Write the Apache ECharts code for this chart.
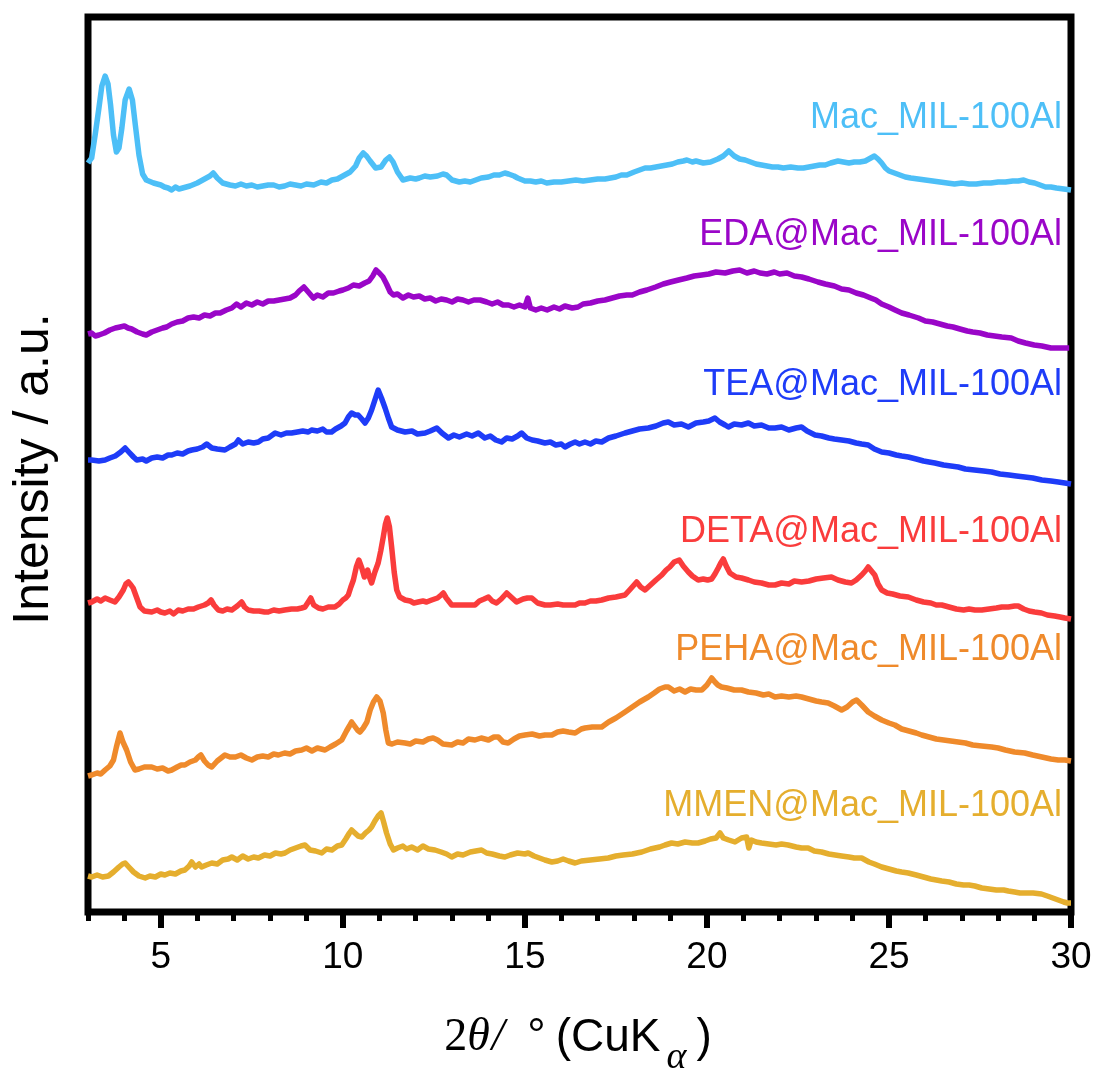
<!DOCTYPE html>
<html style="height: 100%">
<head>
<meta charset="utf-8">
<script src="https://cdn.jsdelivr.net/npm/echarts@6/dist/echarts.min.js"></script>
</head>
<body style="height: 100%; margin: 0; background: #fff">
<div id="container" style="width: 1099px; height: 1070px"></div>
<script type="text/javascript">
// 2theta (deg) vs intensity (a.u., offset stacked)
var majorTicks = [5, 10, 15, 20, 25, 30];

var macData = [[3.0,749],[3.1,754],[3.2,778],[3.3,804],[3.38,826],[3.47,836],[3.55,828],[3.62,807],[3.7,777],[3.78,760],[3.85,764],[3.93,784],[4.02,812],[4.13,823],[4.22,812],[4.3,787],[4.4,757],[4.5,738],[4.6,732],[4.8,729],[5.0,727],[5.1,725],[5.2,724],[5.3,722],[5.4,725],[5.5,723],[5.6,724],[5.7,725],[5.8,726],[6.0,729],[6.2,733],[6.35,736],[6.44,739],[6.55,734],[6.7,729],[6.9,727],[7.05,726],[7.2,728],[7.35,726],[7.5,727],[7.65,725],[7.8,726],[7.95,727],[8.1,727],[8.25,725],[8.4,726],[8.55,728],[8.7,727],[8.85,726],[9.0,728],[9.2,727],[9.4,730],[9.55,729],[9.7,732],[9.85,733],[10.0,736],[10.2,740],[10.35,746],[10.45,754],[10.56,759],[10.65,756],[10.75,751],[10.9,744],[11.05,745],[11.18,752],[11.28,755],[11.38,750],[11.5,740],[11.65,732],[11.85,734],[12.0,733],[12.1,734],[12.25,736],[12.4,735],[12.6,736],[12.75,738],[12.85,737],[13.0,732],[13.2,730],[13.35,731],[13.5,730],[13.65,732],[13.8,734],[14.0,735],[14.15,737],[14.3,737],[14.45,739],[14.55,738],[14.7,736],[14.8,734],[15.0,731],[15.15,731],[15.3,730],[15.45,731],[15.6,729],[15.8,730],[16.0,730],[16.2,731],[16.4,732],[16.6,731],[16.8,732],[17.0,733],[17.2,733],[17.35,734],[17.5,735],[17.65,737],[17.8,737],[18.0,740],[18.15,742],[18.3,744],[18.45,744],[18.6,745],[18.75,746],[18.9,747],[19.05,748],[19.2,750],[19.35,751],[19.45,752],[19.6,750],[19.7,751],[19.9,749],[20.1,750],[20.3,753],[20.45,756],[20.6,761],[20.75,756],[20.9,753],[21.05,752],[21.2,750],[21.35,748],[21.5,747],[21.65,746],[21.8,745],[21.95,745],[22.1,744],[22.3,745],[22.5,744],[22.65,744],[22.8,745],[22.95,746],[23.1,747],[23.25,747],[23.4,749],[23.6,751],[23.75,750],[23.9,749],[24.05,750],[24.2,750],[24.35,751],[24.45,753],[24.6,756],[24.7,753],[24.8,749],[24.9,744],[25.0,741],[25.15,739],[25.3,737],[25.45,735],[25.6,734],[25.8,733],[26.0,732],[26.2,731],[26.4,730],[26.6,729],[26.8,728],[27.0,729],[27.2,728],[27.4,728],[27.6,729],[27.8,729],[28.0,730],[28.2,730],[28.4,731],[28.55,731],[28.7,732],[28.85,730],[29.0,729],[29.15,727],[29.3,725],[29.45,725],[29.6,724],[29.8,723],[30.0,722]];

var edaData = [[3.0,578],[3.1,579],[3.2,576],[3.3,577],[3.45,579],[3.6,582],[3.75,584],[3.88,585],[4.0,586],[4.1,584],[4.2,583],[4.35,580],[4.5,578],[4.6,577],[4.75,580],[4.9,582],[5.05,584],[5.16,585],[5.3,588],[5.45,590],[5.6,591],[5.75,594],[5.9,595],[6.05,594],[6.2,597],[6.35,596],[6.5,599],[6.63,599],[6.8,602],[6.95,604],[7.08,608],[7.2,605],[7.35,609],[7.5,607],[7.65,610],[7.8,608],[7.95,611],[8.1,611],[8.25,612],[8.4,613],[8.55,614],[8.7,617],[8.8,621],[8.93,625],[9.05,620],[9.19,614],[9.3,617],[9.45,615],[9.6,619],[9.74,619],[9.9,621],[10.0,622],[10.15,624],[10.29,627],[10.45,626],[10.6,629],[10.72,631],[10.82,636],[10.91,642],[11.0,639],[11.1,635],[11.2,628],[11.3,620],[11.39,617],[11.5,618],[11.65,614],[11.8,617],[11.94,615],[12.1,616],[12.25,613],[12.4,614],[12.55,611],[12.7,613],[12.85,612],[13.0,610],[13.15,613],[13.3,612],[13.45,610],[13.6,612],[13.77,612],[13.95,610],[14.1,608],[14.25,610],[14.4,607],[14.55,607],[14.7,605],[14.85,607],[15.0,605],[15.08,614],[15.15,604],[15.3,602],[15.45,604],[15.61,602],[15.8,605],[15.95,603],[16.1,606],[16.3,604],[16.46,605],[16.6,608],[16.8,609],[17.0,611],[17.2,612],[17.4,614],[17.6,616],[17.8,617],[17.95,617],[18.15,620],[18.35,622],[18.59,625],[18.8,628],[19.0,630],[19.22,632],[19.45,634],[19.65,636],[19.86,637],[20.05,638],[20.25,640],[20.5,639],[20.71,641],[20.9,642],[21.1,639],[21.3,641],[21.46,639],[21.65,638],[21.85,640],[22.0,638],[22.2,639],[22.4,636],[22.6,635],[22.8,633],[23.05,630],[23.25,628],[23.5,626],[23.7,623],[23.9,622],[24.1,619],[24.3,617],[24.5,614],[24.64,612],[24.8,608],[25.0,605],[25.17,602],[25.35,599],[25.55,597],[25.81,594],[26.0,591],[26.2,590],[26.4,588],[26.6,586],[26.76,585],[26.95,583],[27.15,581],[27.3,580],[27.5,579],[27.7,577],[27.9,576],[28.1,575],[28.36,574],[28.55,571],[28.75,569],[28.99,567],[29.2,566],[29.45,564],[29.7,564],[29.95,564]];

var teaData = [[3.0,452],[3.1,452],[3.3,451],[3.47,452],[3.6,454],[3.75,456],[3.9,460],[4.02,464],[4.12,460],[4.25,455],[4.34,452],[4.5,453],[4.6,451],[4.75,454],[4.9,455],[5.05,454],[5.2,457],[5.3,457],[5.45,459],[5.6,458],[5.75,461],[5.85,462],[6.0,463],[6.15,465],[6.26,468],[6.4,464],[6.55,463],[6.76,462],[6.9,465],[7.05,468],[7.13,472],[7.25,468],[7.4,470],[7.55,469],[7.68,470],[7.8,473],[7.95,474],[8.14,479],[8.3,477],[8.45,479],[8.59,479],[8.75,480],[8.9,481],[9.05,480],[9.14,482],[9.3,481],[9.45,483],[9.55,480],[9.69,480],[9.8,483],[9.95,486],[10.06,489],[10.15,495],[10.24,499],[10.34,497],[10.42,497],[10.52,493],[10.61,489],[10.7,494],[10.79,502],[10.88,512],[10.97,522],[11.06,514],[11.16,504],[11.25,494],[11.34,485],[11.5,482],[11.71,480],[11.9,481],[12.05,478],[12.26,479],[12.4,481],[12.58,484],[12.72,479],[12.9,474],[13.05,477],[13.2,475],[13.4,478],[13.55,476],[13.72,479],[13.9,474],[14.05,476],[14.2,472],[14.36,470],[14.5,474],[14.65,473],[14.8,476],[14.91,479],[15.05,474],[15.2,472],[15.35,471],[15.55,469],[15.7,470],[15.85,467],[16.0,468],[16.1,465],[16.25,468],[16.38,470],[16.5,468],[16.65,470],[16.8,468],[16.95,471],[17.11,470],[17.3,474],[17.5,476],[17.75,479],[17.95,481],[18.15,483],[18.39,484],[18.6,486],[18.8,489],[18.94,490],[19.1,487],[19.3,488],[19.49,485],[19.7,489],[19.9,490],[20.05,491],[20.22,494],[20.35,490],[20.5,487],[20.59,485],[20.75,488],[20.95,487],[21.14,489],[21.3,486],[21.5,487],[21.7,484],[21.87,484],[22.05,485],[22.25,482],[22.45,484],[22.6,485],[22.75,481],[22.97,477],[23.15,476],[23.35,474],[23.5,473],[23.7,472],[23.9,471],[24.1,469],[24.25,468],[24.43,467],[24.6,463],[24.8,460],[25.0,459],[25.2,457],[25.35,456],[25.53,455],[25.75,453],[25.95,451],[26.1,450],[26.26,449],[26.5,447],[26.7,446],[26.9,445],[27.1,443],[27.35,442],[27.6,441],[27.82,440],[28.05,438],[28.3,437],[28.5,436],[28.73,435],[28.95,434],[29.2,432],[29.45,431],[29.65,430],[29.83,429],[30.0,428]];

var detaData = [[3.0,309],[3.1,310],[3.25,313],[3.35,311],[3.47,314],[3.6,312],[3.74,310],[3.85,315],[3.97,322],[4.04,328],[4.11,330],[4.18,327],[4.24,324],[4.33,315],[4.43,305],[4.55,301],[4.75,300],[4.9,302],[5.0,300],[5.11,299],[5.25,301],[5.35,298],[5.48,302],[5.6,301],[5.75,303],[5.9,303],[6.03,305],[6.2,307],[6.3,309],[6.38,312],[6.46,307],[6.58,302],[6.7,301],[6.82,303],[6.95,302],[7.1,306],[7.22,310],[7.3,305],[7.4,302],[7.55,301],[7.7,301],[7.85,300],[7.95,300],[8.1,302],[8.25,301],[8.4,302],[8.59,303],[8.75,303],[8.87,304],[8.96,305],[9.05,310],[9.12,314],[9.2,307],[9.33,304],[9.45,303],[9.6,305],[9.78,305],[9.9,308],[10.0,312],[10.08,314],[10.15,317],[10.22,325],[10.29,332],[10.37,345],[10.44,352],[10.52,344],[10.59,335],[10.68,342],[10.74,334],[10.79,329],[10.88,340],[10.97,349],[11.04,361],[11.11,375],[11.17,388],[11.22,394],[11.28,385],[11.34,365],[11.41,340],[11.48,322],[11.56,315],[11.71,312],[11.85,311],[11.95,309],[12.07,310],[12.2,311],[12.3,310],[12.44,312],[12.6,314],[12.7,317],[12.76,319],[12.84,314],[12.99,307],[13.15,307],[13.3,307],[13.45,307],[13.63,307],[13.75,311],[13.88,313],[14.0,315],[14.1,311],[14.22,309],[14.35,313],[14.5,319],[14.62,315],[14.77,310],[14.95,313],[15.07,314],[15.19,314],[15.35,309],[15.55,307],[15.7,307],[15.9,308],[16.05,307],[16.19,307],[16.38,307],[16.5,309],[16.65,309],[16.8,311],[16.95,311],[17.11,312],[17.3,314],[17.5,315],[17.75,317],[17.9,323],[18.07,330],[18.18,325],[18.3,322],[18.45,327],[18.6,332],[18.76,337],[18.88,342],[18.98,345],[19.1,350],[19.24,352],[19.35,346],[19.49,340],[19.6,336],[19.76,332],[19.9,333],[20.02,332],[20.13,333],[20.22,338],[20.31,344],[20.38,349],[20.45,353],[20.53,346],[20.63,339],[20.8,335],[20.95,334],[21.14,332],[21.3,330],[21.5,329],[21.7,327],[21.87,327],[22.05,329],[22.25,328],[22.4,331],[22.6,330],[22.8,331],[23.0,333],[23.2,334],[23.42,335],[23.6,332],[23.8,330],[23.97,329],[24.1,332],[24.25,337],[24.35,341],[24.43,345],[24.52,341],[24.61,337],[24.7,328],[24.8,322],[24.95,319],[25.1,318],[25.3,316],[25.53,315],[25.75,312],[25.95,310],[26.15,309],[26.3,307],[26.45,307],[26.65,305],[26.85,303],[27.05,302],[27.2,303],[27.36,302],[27.55,302],[27.75,303],[27.95,304],[28.1,305],[28.28,305],[28.45,306],[28.55,306],[28.7,303],[28.85,301],[29.0,300],[29.19,299],[29.35,297],[29.55,296],[29.7,295],[29.83,294],[30.0,293]];

var pehaData = [[3.0,136],[3.1,137],[3.25,139],[3.35,138],[3.47,142],[3.6,146],[3.7,152],[3.78,165],[3.88,179],[3.96,170],[4.06,162],[4.17,150],[4.29,142],[4.4,143],[4.55,145],[4.75,145],[4.9,143],[5.05,144],[5.2,141],[5.3,142],[5.45,145],[5.56,147],[5.66,147],[5.8,150],[5.95,152],[6.03,155],[6.1,157],[6.2,151],[6.3,147],[6.4,145],[6.55,151],[6.76,157],[6.9,155],[7.05,155],[7.2,157],[7.35,154],[7.5,152],[7.65,155],[7.8,156],[7.95,155],[8.1,158],[8.23,157],[8.4,159],[8.55,158],[8.7,161],[8.87,162],[9.0,164],[9.15,161],[9.3,164],[9.51,162],[9.65,165],[9.8,168],[9.97,172],[10.1,181],[10.18,186],[10.24,190],[10.32,186],[10.4,182],[10.47,180],[10.56,184],[10.66,190],[10.75,202],[10.84,210],[10.93,215],[11.02,211],[11.11,199],[11.18,182],[11.25,169],[11.35,168],[11.5,170],[11.71,169],[11.85,168],[12.0,171],[12.2,170],[12.35,173],[12.48,174],[12.6,172],[12.75,168],[12.99,167],[13.15,170],[13.3,169],[13.45,173],[13.63,172],[13.8,174],[14.0,172],[14.15,175],[14.27,175],[14.4,170],[14.54,169],[14.7,173],[14.85,176],[15.0,177],[15.2,178],[15.4,176],[15.55,177],[15.74,177],[15.9,180],[16.05,181],[16.2,180],[16.38,179],[16.55,183],[16.65,184],[16.85,185],[17.11,185],[17.3,190],[17.5,194],[17.75,200],[17.95,205],[18.15,210],[18.39,215],[18.55,219],[18.7,223],[18.85,225],[18.94,225],[19.1,221],[19.25,223],[19.4,220],[19.55,223],[19.7,222],[19.86,222],[20.0,227],[20.13,234],[20.22,230],[20.3,227],[20.4,225],[20.55,224],[20.75,222],[20.95,222],[21.14,220],[21.35,219],[21.55,217],[21.7,218],[21.87,215],[22.05,216],[22.25,215],[22.45,216],[22.6,215],[22.8,213],[23.0,211],[23.15,210],[23.33,209],[23.5,206],[23.7,202],[23.85,205],[24.0,210],[24.11,212],[24.25,207],[24.43,200],[24.6,196],[24.8,192],[25.0,189],[25.16,187],[25.35,183],[25.55,181],[25.75,179],[25.9,177],[26.1,175],[26.3,173],[26.5,172],[26.7,171],[26.9,170],[27.1,169],[27.3,167],[27.55,166],[27.82,165],[28.0,164],[28.2,162],[28.45,160],[28.73,159],[28.95,157],[29.2,155],[29.45,153],[29.65,152],[29.83,152],[30.0,151]];

var mmenData = [[3.0,36],[3.1,35],[3.25,37],[3.4,35],[3.56,36],[3.7,40],[3.85,45],[3.95,48],[4.02,49],[4.12,45],[4.25,40],[4.4,36],[4.57,34],[4.7,36],[4.85,35],[5.0,38],[5.11,37],[5.25,39],[5.4,38],[5.55,41],[5.66,42],[5.78,46],[5.85,50],[5.95,45],[6.05,48],[6.12,45],[6.25,47],[6.4,49],[6.55,48],[6.7,52],[6.85,53],[6.95,55],[7.1,52],[7.25,56],[7.4,53],[7.55,55],[7.68,54],[7.85,57],[8.0,56],[8.15,59],[8.3,58],[8.41,59],[8.55,62],[8.7,64],[8.85,66],[8.96,67],[9.1,62],[9.25,61],[9.42,59],[9.55,63],[9.7,62],[9.85,66],[9.97,67],[10.08,73],[10.18,79],[10.24,82],[10.33,79],[10.42,76],[10.52,75],[10.62,79],[10.72,82],[10.79,85],[10.88,91],[10.97,96],[11.05,99],[11.12,90],[11.2,79],[11.3,68],[11.39,62],[11.5,64],[11.65,66],[11.75,63],[11.89,65],[12.05,62],[12.2,66],[12.35,63],[12.53,62],[12.7,60],[12.85,58],[12.99,55],[13.15,58],[13.3,57],[13.5,60],[13.65,61],[13.81,62],[13.95,59],[14.1,58],[14.3,56],[14.45,55],[14.6,57],[14.8,59],[15.0,58],[15.09,59],[15.25,56],[15.4,54],[15.55,52],[15.74,50],[15.9,51],[16.05,53],[16.2,51],[16.38,49],[16.55,51],[16.8,52],[17.05,53],[17.29,54],[17.5,56],[17.7,57],[17.95,58],[18.21,60],[18.45,63],[18.7,65],[18.85,67],[19.03,69],[19.2,68],[19.4,70],[19.6,69],[19.76,69],[19.95,71],[20.1,73],[20.25,74],[20.36,79],[20.45,74],[20.6,72],[20.77,70],[20.95,74],[21.09,75],[21.15,64],[21.22,72],[21.35,70],[21.5,69],[21.7,68],[21.9,67],[22.05,68],[22.23,67],[22.45,65],[22.6,64],[22.78,64],[22.95,61],[23.15,60],[23.35,58],[23.52,57],[23.7,56],[23.9,55],[24.05,54],[24.25,54],[24.45,50],[24.6,48],[24.8,45],[25.0,43],[25.2,41],[25.35,40],[25.53,39],[25.75,37],[25.95,35],[26.15,33],[26.3,32],[26.45,31],[26.65,30],[26.85,28],[27.05,27],[27.2,27],[27.36,26],[27.55,24],[27.75,23],[27.95,22],[28.15,22],[28.28,21],[28.45,20],[28.6,19],[28.8,19],[28.96,19],[29.19,18],[29.35,16],[29.5,14],[29.65,12],[29.8,10],[29.9,9],[30.0,9]];

var seriesNames = ['Mac_MIL-100Al', 'EDA@Mac_MIL-100Al', 'TEA@Mac_MIL-100Al',
                   'DETA@Mac_MIL-100Al', 'PEHA@Mac_MIL-100Al', 'MMEN@Mac_MIL-100Al'];
var seriesData = [macData, edaData, teaData, detaData, pehaData, mmenData];
var seriesColors = ['#4DBFF7', '#9A06C8', '#1E3CF8', '#FA3C3C', '#EF8A2B', '#E5AE2E'];
var labelY = [118, 235, 385, 532, 650, 806];

var dom = document.getElementById('container');
var myChart = echarts.init(dom, null, {renderer: 'canvas'});

var series = seriesData.map(function (d, i) {
    return {
        name: seriesNames[i],
        type: 'line',
        data: d,
        showSymbol: false,
        symbol: 'none',
        lineStyle: {color: seriesColors[i], width: 5.5, join: 'round'},
        z: 2
    };
});

var labels = seriesNames.map(function (n, i) {
    return {
        type: 'text',
        x: 1062,
        y: labelY[i],
        style: {
            text: n,
            fill: seriesColors[i],
            fontSize: 36,
            fontFamily: 'Liberation Sans',
            align: 'right',
            verticalAlign: 'middle'
        }
    };
});

var option = {
    animation: false,
    backgroundColor: '#fff',
    grid: {
        left: 88, top: 17, width: 983, height: 895,
        show: true, borderColor: '#000', borderWidth: 7, backgroundColor: 'transparent'
    },
    xAxis: [{
        type: 'value',
        min: 3,
        max: 30,
        position: 'bottom',
        axisLine: {show: false},
        splitLine: {show: false},
        axisTick: {
            show: true, inside: false, length: 16, customValues: majorTicks,
            lineStyle: {color: '#000', width: 6}
        },
        axisLabel: {
            show: true, customValues: majorTicks, margin: 27,
            color: '#000', fontSize: 37, fontFamily: 'Liberation Sans',
            showMinLabel: true, showMaxLabel: true
        }
    }, {
        type: 'value',
        min: 3,
        max: 30,
        interval: 1,
        position: 'bottom',
        axisLine: {show: false},
        splitLine: {show: false},
        axisLabel: {show: false},
        axisTick: {show: true, inside: false, length: 9, lineStyle: {color: '#000', width: 5}}
    }],
    yAxis: {
        type: 'value',
        min: 0,
        max: 895,
        show: false
    },
    series: series,
    graphic: labels.concat([{
        type: 'text',
        x: 34,
        y: 469,
        rotation: Math.PI / 2,
        style: {
            text: 'Intensity / a.u.',
            fill: '#000',
            fontSize: 50,
            fontFamily: 'Liberation Sans',
            align: 'center',
            verticalAlign: 'middle'
        }
    }, {
        type: 'text',
        x: 578,
        y: 1038,
        style: {
            text: '{n|2}{t|θ}{s|/}{c| °}{c|(CuK}{a|α}{p|)}',
            fill: '#000',
            align: 'center',
            verticalAlign: 'middle',
            rich: {
                n: {fontSize: 46, fontFamily: 'Liberation Serif', fill: '#000'},
                t: {fontSize: 46, fontFamily: 'Liberation Serif', fontStyle: 'italic', fill: '#000'},
                s: {fontSize: 46, fontFamily: 'Liberation Serif', fontStyle: 'italic', fill: '#000', padding: [0, 0, 0, 2]},
                c: {fontSize: 46, fontFamily: 'Liberation Sans', fill: '#000', padding: [0, 0, 0, 10]},
                a: {fontSize: 38, fontFamily: 'Liberation Serif', fontStyle: 'italic', fill: '#000', padding: [40, 0, 0, 6]},
                p: {fontSize: 46, fontFamily: 'Liberation Sans', fill: '#000', padding: [0, 0, 0, 10]}
            }
        }
    }])
};

if (option && typeof option === 'object') {
    myChart.setOption(option, true);
}
</script>
</body>
</html>
